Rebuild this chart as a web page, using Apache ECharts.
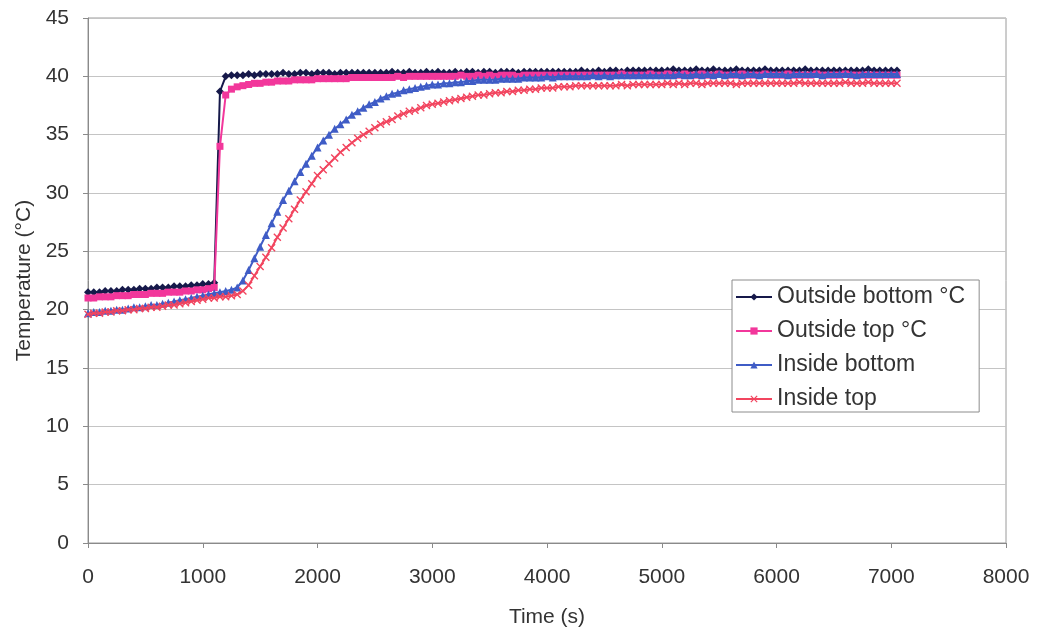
<!DOCTYPE html>
<html>
<head>
<meta charset="utf-8">
<script src="https://cdn.jsdelivr.net/npm/echarts@6/dist/echarts.min.js"></script>
<style>
  html, body { margin: 0; padding: 0; background: #fff; }
  #chart { width: 1037px; height: 632px; }
</style>
</head>
<body>
<div id="chart"></div>
<script>
// Sample times (s): one reading every 50 s from 0 to 7050 s
const STEP = 50;
const COUNT = 142;
const times = [];
for (let i = 0; i < COUNT; i++) times.push(i * STEP);

const seriesNames = ['Outside bottom °C', 'Outside top °C', 'Inside bottom', 'Inside top'];

// Temperatures (°C), ten readings per row (500 s per row)
const outsideBottom = [
  21.5,21.5,21.5,21.6,21.6,21.6,21.7,21.7,21.7,21.8,
  21.8,21.8,21.9,21.9,21.9,22.0,22.0,22.0,22.1,22.1,
  22.2,22.2,22.3,38.7,40.0,40.1,40.1,40.1,40.2,40.1,
  40.2,40.2,40.2,40.2,40.3,40.2,40.2,40.3,40.3,40.2,
  40.3,40.3,40.3,40.2,40.3,40.3,40.3,40.3,40.3,40.3,
  40.3,40.3,40.3,40.4,40.3,40.3,40.4,40.3,40.3,40.4,
  40.3,40.4,40.3,40.3,40.4,40.3,40.4,40.4,40.3,40.4,
  40.4,40.3,40.4,40.4,40.4,40.3,40.4,40.4,40.4,40.4,
  40.4,40.4,40.4,40.4,40.4,40.4,40.5,40.4,40.4,40.5,
  40.4,40.5,40.5,40.4,40.5,40.5,40.5,40.5,40.5,40.5,
  40.5,40.5,40.6,40.5,40.5,40.5,40.6,40.5,40.5,40.6,
  40.5,40.5,40.5,40.6,40.5,40.5,40.5,40.5,40.6,40.5,
  40.5,40.5,40.5,40.5,40.5,40.6,40.5,40.5,40.5,40.5,
  40.5,40.5,40.5,40.5,40.5,40.5,40.6,40.5,40.5,40.5,
  40.5,40.5
];

const outsideTop = [
  21.0,21.0,21.1,21.1,21.1,21.2,21.2,21.2,21.3,21.3,
  21.3,21.4,21.4,21.4,21.5,21.5,21.5,21.6,21.6,21.7,
  21.7,21.8,21.9,34.0,38.4,38.9,39.1,39.2,39.3,39.4,
  39.4,39.5,39.5,39.6,39.6,39.6,39.7,39.7,39.7,39.7,
  39.8,39.8,39.8,39.8,39.8,39.8,39.9,39.9,39.9,39.9,
  39.9,39.9,39.9,39.9,40.0,39.9,40.0,40.0,40.0,40.0,
  40.0,40.0,40.0,40.0,40.0,40.1,40.0,40.0,40.1,40.0,
  40.1,40.0,40.1,40.1,40.1,40.0,40.1,40.1,40.1,40.1,
  40.1,40.1,40.1,40.1,40.1,40.1,40.1,40.1,40.1,40.1,
  40.1,40.1,40.1,40.2,40.1,40.1,40.1,40.1,40.2,40.1,
  40.1,40.2,40.1,40.1,40.2,40.1,40.1,40.2,40.1,40.1,
  40.2,40.1,40.1,40.1,40.2,40.1,40.1,40.1,40.2,40.1,
  40.1,40.1,40.2,40.1,40.1,40.1,40.1,40.2,40.1,40.1,
  40.1,40.1,40.2,40.1,40.1,40.1,40.1,40.1,40.1,40.1,
  40.1,40.1
];

const insideBottom = [
  19.7,19.8,19.8,19.9,19.9,20.0,20.0,20.1,20.2,20.2,
  20.3,20.4,20.4,20.5,20.6,20.7,20.8,20.9,21.0,21.1,
  21.2,21.3,21.4,21.5,21.6,21.7,21.9,22.5,23.4,24.4,
  25.4,26.4,27.4,28.4,29.4,30.2,31.0,31.8,32.5,33.2,
  33.9,34.5,35.0,35.5,35.9,36.3,36.7,37.0,37.3,37.6,
  37.8,38.1,38.3,38.5,38.6,38.8,38.9,39.0,39.1,39.2,
  39.3,39.3,39.4,39.4,39.5,39.5,39.6,39.6,39.7,39.7,
  39.7,39.7,39.8,39.8,39.8,39.8,39.9,39.9,39.9,39.9,
  40.0,39.9,40.0,40.0,40.0,40.0,40.0,40.0,40.1,40.0,
  40.1,40.0,40.1,40.1,40.1,40.1,40.1,40.1,40.1,40.1,
  40.1,40.1,40.1,40.2,40.1,40.1,40.2,40.1,40.2,40.1,
  40.2,40.1,40.2,40.2,40.1,40.2,40.2,40.1,40.2,40.2,
  40.2,40.2,40.1,40.2,40.2,40.2,40.2,40.2,40.1,40.2,
  40.2,40.2,40.2,40.2,40.1,40.2,40.2,40.2,40.2,40.2,
  40.2,40.2
];

const insideTop = [
  19.6,19.7,19.7,19.8,19.8,19.9,19.9,20.0,20.0,20.1,
  20.1,20.2,20.2,20.3,20.4,20.4,20.5,20.6,20.7,20.8,
  20.9,21.0,21.0,21.1,21.1,21.2,21.3,21.6,22.1,22.9,
  23.7,24.5,25.3,26.2,27.0,27.8,28.6,29.4,30.1,30.8,
  31.5,32.0,32.5,33.0,33.5,33.9,34.3,34.7,35.0,35.3,
  35.6,35.9,36.1,36.3,36.6,36.8,37.0,37.1,37.3,37.5,
  37.6,37.7,37.8,37.9,38.0,38.1,38.2,38.3,38.4,38.4,
  38.5,38.6,38.6,38.7,38.7,38.8,38.8,38.9,38.9,39.0,
  39.0,39.0,39.1,39.1,39.1,39.2,39.2,39.2,39.2,39.2,
  39.2,39.2,39.2,39.3,39.2,39.3,39.3,39.3,39.3,39.3,
  39.3,39.4,39.3,39.4,39.3,39.4,39.4,39.3,39.4,39.4,
  39.4,39.4,39.4,39.3,39.4,39.4,39.4,39.4,39.4,39.4,
  39.4,39.4,39.4,39.4,39.5,39.4,39.4,39.4,39.4,39.4,
  39.4,39.4,39.5,39.4,39.4,39.4,39.5,39.4,39.4,39.4,
  39.4,39.4
];

const seriesValues = [outsideBottom, outsideTop, insideBottom, insideTop];
const seriesColors = ['#16194a', '#f2379b', '#3f5cc6', '#f2455f'];
// thin "x" outline for the inside-top markers
const crossPath = 'path://M0,1.2L1.2,0L5,3.8L8.8,0L10,1.2L6.2,5L10,8.8L8.8,10L5,6.2L1.2,10L0,8.8L3.8,5Z';
const seriesSymbols = ['diamond', 'rect', 'triangle', crossPath];
const seriesSymbolSizes = [8, 7, 8, 8];

const FONT = '"Liberation Sans", Arial, sans-serif';

const chart = echarts.init(document.getElementById('chart'), null, { renderer: 'canvas' });

chart.setOption({
  animation: false,
  backgroundColor: '#ffffff',
  textStyle: { fontFamily: FONT },
  grid: {
    left: 88, right: 31, top: 18, bottom: 89,
    outerBoundsMode: 'none',
    show: true, borderColor: '#9a9a9a', borderWidth: 1
  },
  legend: {
    orient: 'vertical',
    left: 732, top: 280,
    data: seriesNames,
    backgroundColor: '#ffffff',
    borderColor: '#8c8c8c', borderWidth: 1, borderRadius: 0,
    padding: [5, 14, 1, 3],
    itemWidth: 36, itemHeight: 9, itemGap: 10,
    textStyle: { fontFamily: FONT, fontSize: 23, color: '#333', lineHeight: 24 }
  },
  xAxis: {
    type: 'value', min: 0, max: 8000, interval: 1000,
    name: 'Time (s)', nameLocation: 'middle', nameGap: 64,
    nameTextStyle: { fontFamily: FONT, fontSize: 21, color: '#333' },
    axisLine: { show: true, onZero: false, lineStyle: { color: '#8a8a8a', width: 1 } },
    axisTick: { show: true, length: 5, lineStyle: { color: '#8a8a8a' } },
    axisLabel: { fontFamily: FONT, fontSize: 21, color: '#333', margin: 24,
                 formatter: (v) => String(v) },
    splitLine: { show: false }
  },
  yAxis: {
    type: 'value', min: 0, max: 45, interval: 5,
    name: 'Temperature (°C)', nameLocation: 'middle', nameGap: 51, nameRotate: 90,
    nameTextStyle: { fontFamily: FONT, fontSize: 21, color: '#333' },
    axisLine: { show: true, lineStyle: { color: '#8a8a8a', width: 1 } },
    axisTick: { show: true, length: 5, lineStyle: { color: '#8a8a8a' } },
    axisLabel: { fontFamily: FONT, fontSize: 21, color: '#333', margin: 19,
                 formatter: (v) => String(v) },
    splitLine: { show: true, lineStyle: { color: '#c4c4c4', width: 1 } }
  },
  series: seriesNames.map((name, k) => ({
    name: name,
    type: 'line',
    data: times.map((t, i) => [t, seriesValues[k][i]]),
    symbol: seriesSymbols[k],
    symbolSize: seriesSymbolSizes[k],
    showSymbol: true,
    showAllSymbol: true,
    color: seriesColors[k],
    lineStyle: { color: seriesColors[k], width: 2 },
    itemStyle: { color: seriesColors[k] },
    emphasis: { disabled: true },
    z: 2 + k
  }))
});
</script>
</body>
</html>
